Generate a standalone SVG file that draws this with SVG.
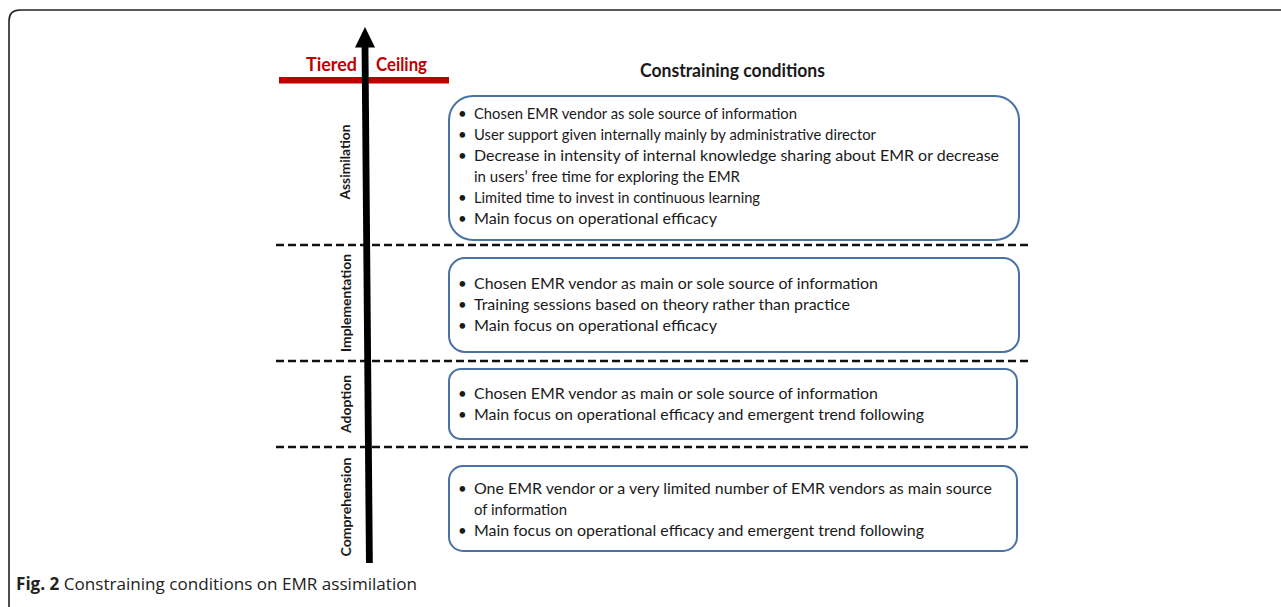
<svg xmlns="http://www.w3.org/2000/svg" width="1281" height="607" viewBox="0 0 1281 607">
  <style>
    .frame { fill: none; stroke: #222; stroke-width: 1.6; }
    .box { fill: #fff; stroke: #4a72a6; stroke-width: 2; }
    .dash { fill: none; stroke: #111; stroke-width: 2.6; stroke-dasharray: 8 4; }
    .item { font-family: Lato, "Open Sans", sans-serif; font-size: 15px; fill: #1a1a1a; }
    .phase { font-family: Lato, "Open Sans", sans-serif; font-size: 13px; font-weight: bold; fill: #1a1a1a; }
    .head { font-family: Lato, "Open Sans", sans-serif; font-size: 18.5px; font-weight: bold; fill: #1a1a1a; }
    .ceil { font-family: Lato, "Open Sans", sans-serif; font-size: 19.5px; font-weight: bold; fill: #c00000; }
    .cap { font-family: "Open Sans", sans-serif; font-size: 17px; fill: #222; }
  </style>

  <!-- figure frame -->
  <path class="frame" d="M9,607 V21 Q9,10 20,10 H1281"/>

  <!-- ceiling bar -->
  <rect x="279" y="77" width="170" height="6.5" fill="#c00000"/>
  <text class="ceil" x="306" y="71" textLength="51" lengthAdjust="spacingAndGlyphs">Tiered</text>
  <text class="ceil" x="376" y="71" textLength="51" lengthAdjust="spacingAndGlyphs">Ceiling</text>

  <!-- dashed phase separators -->
  <g id="connectors">
    <line class="dash" x1="276" y1="245" x2="1028" y2="245"/>
    <line class="dash" x1="276" y1="361" x2="1028" y2="361"/>
    <line class="dash" x1="276" y1="447" x2="1028" y2="447"/>
  </g>

  <!-- progression arrow -->
  <g id="arrow">
    <polygon fill="#000" points="366,563 372.8,563 368.4,47 361.6,47"/>
    <polygon fill="#000" points="355,47.5 375,47.5 365,27"/>
  </g>

  <text class="head" x="640" y="77" textLength="185" lengthAdjust="spacingAndGlyphs">Constraining conditions</text>

  <!-- phase labels -->
  <g id="phase-labels">
    <text class="phase" transform="translate(350,162) rotate(-90)" text-anchor="middle" textLength="75" lengthAdjust="spacingAndGlyphs">Assimilation</text>
    <text class="phase" transform="translate(351,303) rotate(-90)" text-anchor="middle" textLength="98" lengthAdjust="spacingAndGlyphs">Implementation</text>
    <text class="phase" transform="translate(351,404) rotate(-90)" text-anchor="middle" textLength="58" lengthAdjust="spacingAndGlyphs">Adoption</text>
    <text class="phase" transform="translate(351,507) rotate(-90)" text-anchor="middle" textLength="99" lengthAdjust="spacingAndGlyphs">Comprehension</text>
  </g>

  <!-- assimilation conditions -->
  <g id="assimilation">
    <rect class="box" x="449" y="96" width="570" height="144" rx="24"/>
    <text class="item" x="458" y="119">•</text>
    <text class="item" x="474" y="119" textLength="323" lengthAdjust="spacingAndGlyphs">Chosen EMR vendor as sole source of information</text>
    <text class="item" x="458" y="140">•</text>
    <text class="item" x="474" y="140" textLength="402" lengthAdjust="spacingAndGlyphs">User support given internally mainly by administrative director</text>
    <text class="item" x="458" y="161">•</text>
    <text class="item" x="474" y="161" textLength="525" lengthAdjust="spacingAndGlyphs">Decrease in intensity of internal knowledge sharing about EMR or decrease</text>
    <text class="item" x="474" y="182" textLength="266" lengthAdjust="spacingAndGlyphs">in users’ free time for exploring the EMR</text>
    <text class="item" x="458" y="203">•</text>
    <text class="item" x="474" y="203" textLength="286" lengthAdjust="spacingAndGlyphs">Limited time to invest in continuous learning</text>
    <text class="item" x="458" y="224">•</text>
    <text class="item" x="474" y="224" textLength="243" lengthAdjust="spacingAndGlyphs">Main focus on operational efficacy</text>
  </g>

  <!-- implementation conditions -->
  <g id="implementation">
    <rect class="box" x="449" y="258" width="570" height="94" rx="16"/>
    <text class="item" x="458" y="289">•</text>
    <text class="item" x="474" y="289" textLength="404" lengthAdjust="spacingAndGlyphs">Chosen EMR vendor as main or sole source of information</text>
    <text class="item" x="458" y="310">•</text>
    <text class="item" x="474" y="310" textLength="376" lengthAdjust="spacingAndGlyphs">Training sessions based on theory rather than practice</text>
    <text class="item" x="458" y="331">•</text>
    <text class="item" x="474" y="331" textLength="243" lengthAdjust="spacingAndGlyphs">Main focus on operational efficacy</text>
  </g>

  <!-- adoption conditions -->
  <g id="adoption">
    <rect class="box" x="449" y="369" width="568" height="70" rx="12"/>
    <text class="item" x="458" y="399">•</text>
    <text class="item" x="474" y="399" textLength="404" lengthAdjust="spacingAndGlyphs">Chosen EMR vendor as main or sole source of information</text>
    <text class="item" x="458" y="420">•</text>
    <text class="item" x="474" y="420" textLength="450" lengthAdjust="spacingAndGlyphs">Main focus on operational efficacy and emergent trend following</text>
  </g>

  <!-- comprehension conditions -->
  <g id="comprehension">
    <rect class="box" x="449" y="466" width="568" height="85" rx="14"/>
    <text class="item" x="458" y="494">•</text>
    <text class="item" x="474" y="494" textLength="518" lengthAdjust="spacingAndGlyphs">One EMR vendor or a very limited number of EMR vendors as main source</text>
    <text class="item" x="474" y="515" textLength="93" lengthAdjust="spacingAndGlyphs">of information</text>
    <text class="item" x="458" y="536">•</text>
    <text class="item" x="474" y="536" textLength="450" lengthAdjust="spacingAndGlyphs">Main focus on operational efficacy and emergent trend following</text>
  </g>

  <!-- caption -->
  <text class="cap" x="16" y="590" textLength="401" lengthAdjust="spacingAndGlyphs"><tspan font-weight="bold">Fig. 2</tspan> Constraining conditions on EMR assimilation</text>
</svg>
